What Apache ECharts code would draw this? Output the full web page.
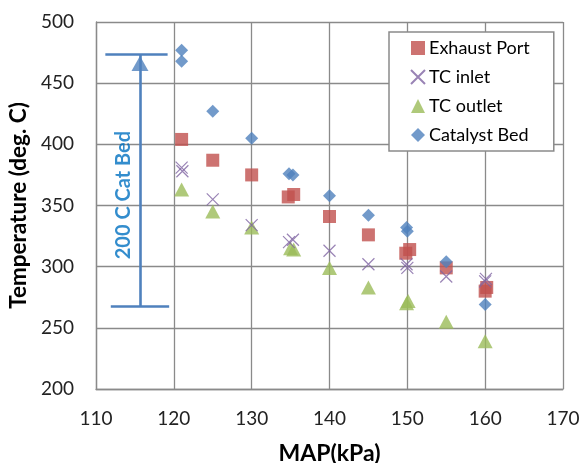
<!DOCTYPE html>
<html>
<head>
<meta charset="utf-8">
<script src="https://cdn.jsdelivr.net/npm/echarts@6/dist/echarts.min.js"></script>
<style>
  html, body { margin: 0; padding: 0; background: #fff; }
  #chart { width: 584px; height: 463px; }
</style>
</head>
<body>
<div id="chart"></div>
<script>
// Measured temperatures vs. manifold absolute pressure
const seriesNames = ['Exhaust Port', 'TC inlet', 'TC outlet', 'Catalyst Bed'];

const exhaustPortMAP = [121, 125, 130, 134.7, 135.4, 140, 145, 149.8, 150.3, 155, 160, 160.2];
const exhaustPortTemp = [404, 387, 375, 357, 359, 341, 326, 311, 314, 299, 280, 283];

const tcInletMAP = [121, 121.1, 125, 130, 134.8, 135.3, 140, 145, 149.9, 150, 155, 160, 160.1];
const tcInletTemp = [381, 378, 355, 334, 320, 322, 313, 302, 302, 299, 292, 288, 290];

const tcOutletMAP = [121, 125, 130, 135, 135.4, 140, 145, 149.9, 150.1, 155, 160];
const tcOutletTemp = [363, 345, 332, 315, 314, 299, 283, 270, 272, 255, 239];

const catalystBedMAP = [121, 121, 125, 130, 134.8, 135.3, 140, 145, 149.9, 150, 155, 160];
const catalystBedTemp = [477, 468, 427, 405, 376, 375, 358, 342, 332, 329, 304, 269];

// "200 C Cat Bed" bracket (MAP, temperature)
const bracketX = 115.65;
const bracketTopTemp = 473.6;
const bracketBottomTemp = 267.8;
const bracketTopSpan = [111.2, 119.2];
const bracketBottomSpan = [111.9, 119.4];
const arrowHeadTemp = 466;
const bracketLabel = '200 C Cat Bed';
const bracketLabelPos = [113.6, 358.5];

// Axis ranges
const xMin = 110, xMax = 170, xStep = 10;
const yMin = 200, yMax = 500, yStep = 50;

const pair = (xs, ys) => xs.map((x, i) => [x, ys[i]]);

const FONT = 'Lato, "Open Sans", sans-serif';
const GRID_COLOR = '#8a8a8a';
const BLUE = '#4F81BD';

const chart = echarts.init(document.getElementById('chart'), null, { renderer: 'canvas' });

chart.setOption({
  animation: false,
  backgroundColor: '#ffffff',
  textStyle: { fontFamily: FONT },
  grid: { left: 96, top: 22, right: 21, bottom: 74, containLabel: false, outerBoundsMode: 'none' },
  xAxis: {
    type: 'value', min: xMin, max: xMax, interval: xStep,
    name: 'MAP(kPa)', nameLocation: 'middle', nameGap: 53,
    nameTextStyle: { fontFamily: FONT, fontSize: 23, fontWeight: 'bold', color: '#000' },
    axisLine: { show: true, lineStyle: { color: GRID_COLOR, width: 1.3 } },
    axisTick: { show: false },
    axisLabel: { fontFamily: FONT, fontSize: 19, color: '#222', margin: 20 },
    splitLine: { show: true, lineStyle: { color: GRID_COLOR, width: 1.3 } }
  },
  yAxis: {
    type: 'value', min: yMin, max: yMax, interval: yStep,
    name: 'Temperature (deg. C)', nameLocation: 'middle', nameGap: 48,
    nameTextStyle: { fontFamily: FONT, fontSize: 22.5, fontWeight: 'bold', color: '#000' },
    axisLine: { show: true, lineStyle: { color: GRID_COLOR, width: 1.3 } },
    axisTick: { show: false },
    axisLabel: { fontFamily: FONT, fontSize: 19, color: '#222', margin: 22 },
    splitLine: { show: true, lineStyle: { color: GRID_COLOR, width: 1.3 } }
  },
  legend: {
    data: seriesNames,
    orient: 'vertical',
    left: 389, top: 32,
    padding: [7, 24, 7, 21],
    itemGap: 11,
    itemWidth: 14, itemHeight: 14,
    backgroundColor: '#ffffff',
    borderColor: '#8a8a8a', borderWidth: 1.5,
    textStyle: { fontFamily: FONT, fontSize: 18, color: '#000', padding: [0, 0, 0, -1] }
  },
  series: [
    {
      name: 'Exhaust Port', type: 'scatter', z: 3,
      symbol: 'rect', symbolSize: 13,
      itemStyle: { color: '#C0504D' },
      data: pair(exhaustPortMAP, exhaustPortTemp)
    },
    {
      name: 'TC inlet', type: 'scatter', z: 4,
      symbol: 'path://M0,0L10,10M10,0L0,10', symbolSize: 12,
      itemStyle: { color: 'rgba(0,0,0,0)', borderColor: '#8064A2', borderWidth: 1.2 },
      data: pair(tcInletMAP, tcInletTemp)
    },
    {
      name: 'TC outlet', type: 'scatter', z: 3,
      symbol: 'triangle', symbolSize: [15, 14],
      itemStyle: { color: '#9BBB59' },
      data: pair(tcOutletMAP, tcOutletTemp)
    },
    {
      name: 'Catalyst Bed', type: 'scatter', z: 3,
      symbol: 'diamond', symbolSize: 13,
      itemStyle: { color: BLUE },
      data: pair(catalystBedMAP, catalystBedTemp)
    },
    {
      // bracket marking the 200 C span of the catalyst bed
      name: 'bracket', type: 'scatter', z: 2,
      symbol: 'triangle', symbolSize: [17, 15],
      itemStyle: { color: BLUE },
      data: [[bracketX, arrowHeadTemp]],
      markLine: {
        silent: true, symbol: ['none', 'none'],
        lineStyle: { color: BLUE, width: 2.6, type: 'solid' },
        label: { show: false },
        data: [
          [{ coord: [bracketX, bracketBottomTemp] }, { coord: [bracketX, bracketTopTemp] }],
          [{ coord: [bracketTopSpan[0], bracketTopTemp] }, { coord: [bracketTopSpan[1], bracketTopTemp] }],
          [{ coord: [bracketBottomSpan[0], bracketBottomTemp] }, { coord: [bracketBottomSpan[1], bracketBottomTemp] }]
        ]
      }
    },
    {
      name: 'bracketLabel', type: 'scatter', z: 5,
      symbolSize: 0,
      data: [bracketLabelPos],
      label: {
        show: true, position: 'inside', rotate: 90,
        formatter: bracketLabel,
        fontFamily: FONT, fontSize: 20, fontWeight: 'bold', color: '#0070C0'
      }
    }
  ]
});
</script>
</body>
</html>
